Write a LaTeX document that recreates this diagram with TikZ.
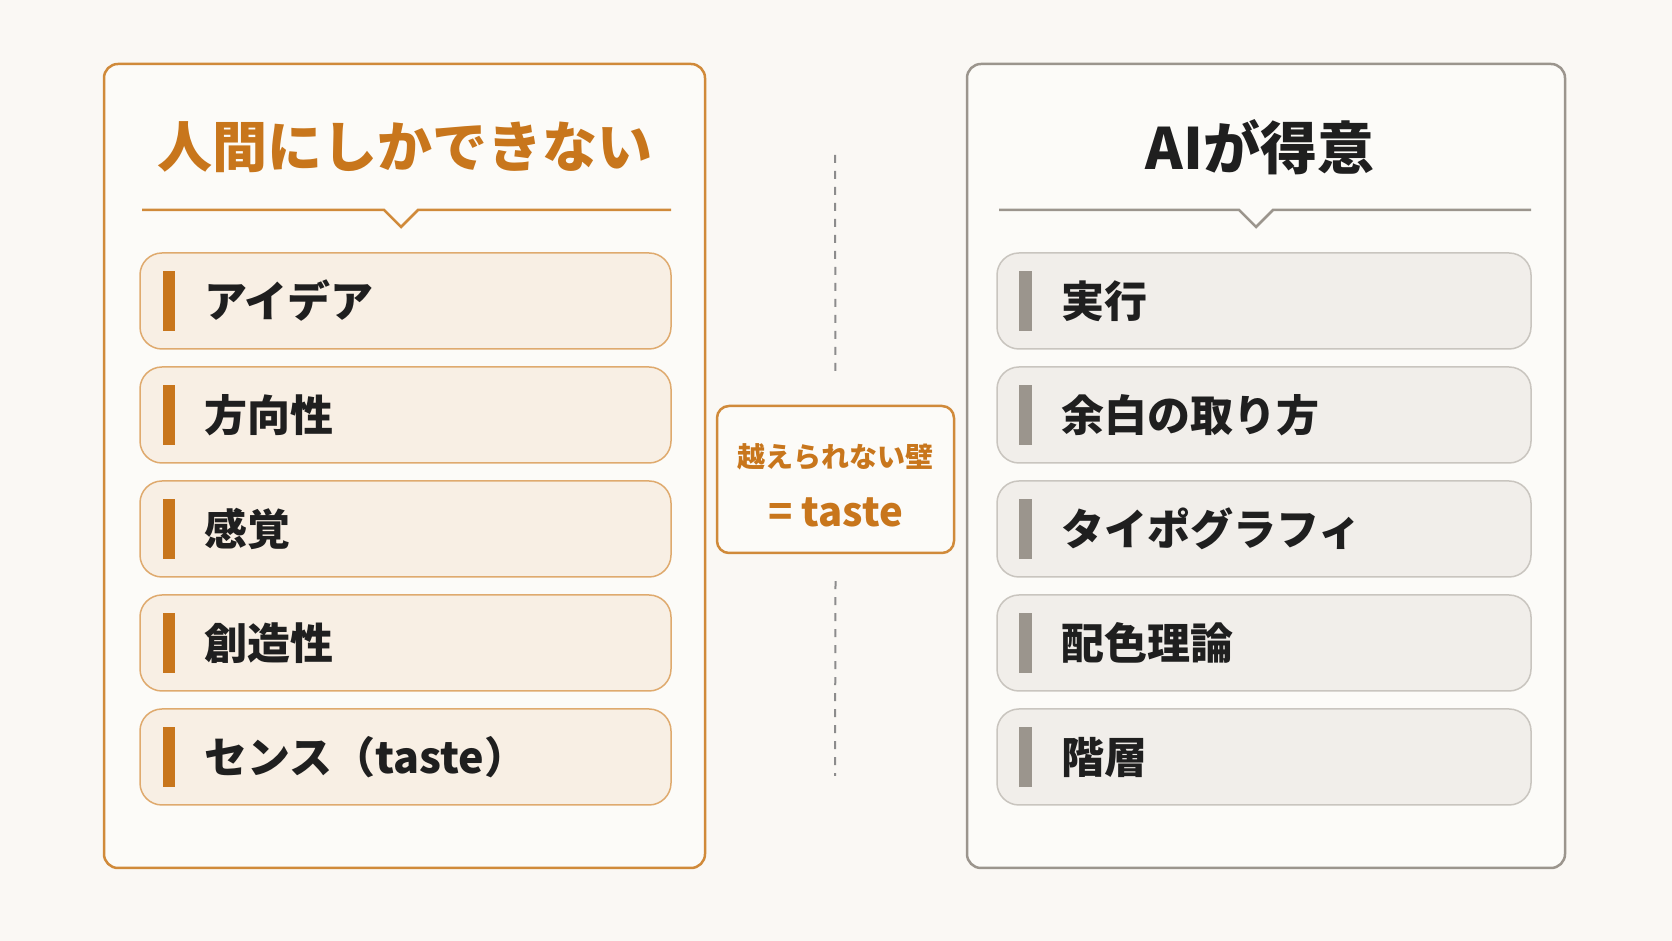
\documentclass[tikz,border=0pt]{standalone}
\usepackage{fontspec}
\setmainfont{Noto Sans CJK JP}
\usetikzlibrary{positioning}
\definecolor{pageBg}{HTML}{FAF8F4}
\definecolor{humanOrange}{HTML}{C8761C}
\definecolor{humanLine}{HTML}{D08A3A}
\definecolor{humanSoft}{HTML}{F8EFE4}
\definecolor{humanEdge}{HTML}{DFAA6E}
\definecolor{aiGray}{HTML}{9B958D}
\definecolor{aiSoft}{HTML}{F1EEEA}
\definecolor{aiEdge}{HTML}{C9C5BF}
\definecolor{inkDark}{HTML}{1F1F1F}
\definecolor{dashGray}{HTML}{8C8C8C}
\tikzset{
  panelH/.style={rectangle, rounded corners=14pt, draw=humanLine, line width=2.5pt,
                 fill=white!40!pageBg, minimum width=601pt, minimum height=804pt, inner sep=0pt},
  panelA/.style={rectangle, rounded corners=14pt, draw=aiGray, line width=2.5pt,
                 fill=white!40!pageBg, minimum width=598pt, minimum height=804pt, inner sep=0pt},
  titleH/.style={font=\bfseries\fontsize{55}{60}\selectfont, text=humanOrange},
  titleA/.style={font=\bfseries\fontsize{57}{60}\selectfont, text=inkDark},
  sepH/.style={humanLine, line width=2.5pt},
  sepA/.style={aiGray, line width=2.5pt},
  itemH/.style={rectangle, rounded corners=22pt, draw=humanEdge, line width=1.5pt, fill=humanSoft,
                minimum width=531pt, minimum height=96pt, text width=403pt, inner xsep=64pt,
                align=left, text=inkDark, font=\bfseries\fontsize{43}{50}\selectfont},
  itemA/.style={rectangle, rounded corners=22pt, draw=aiEdge, line width=1.5pt, fill=aiSoft,
                minimum width=534pt, minimum height=96pt, text width=406pt, inner xsep=64pt,
                align=left, text=inkDark, font=\bfseries\fontsize{43}{50}\selectfont},
  barH/.style={fill=humanOrange},
  barA/.style={fill=aiGray},
  wallbox/.style={rectangle, rounded corners=12pt, draw=humanLine, line width=2.5pt,
                  fill=white!40!pageBg, minimum width=237pt, minimum height=147pt},
  walltext/.style={align=center, text=humanOrange, font=\bfseries},
  divider/.style={dashGray, line width=2pt, dash pattern=on 8pt off 8pt},
}
\begin{document}
\begin{tikzpicture}[x=1pt, y=1pt, node distance=16.5pt]
    \fill[pageBg] (0,0) rectangle (1672,941);
    % two columns
    \node[panelH] (human) at (404.5,475) {};
    \node[panelA] (ai) at (1266,475) {};
    \node[titleH] (tH) at (405,794) {人間にしかできない};
    \node[titleA] (tA) at (1260,794) {AIが得意};
    \draw[sepH] (142,731) -- (384,731) -- (401,714) -- (418,731) -- (671,731);
    \draw[sepA] (999,731) -- (1239,731) -- (1256,714) -- (1273,731) -- (1531,731);
    % left list
    \node[itemH] (h1) at (405.5,640) {アイデア};
    \node[itemH, below=of h1] (h2) {方向性};
    \node[itemH, below=of h2] (h3) {感覚};
    \node[itemH, below=of h3] (h4) {創造性};
    \node[itemH, below=of h4] (h5) {センス（taste）};
    \fill[barH] ([xshift=24pt,yshift=-30pt]h1.west) rectangle ++(12,60);
    \fill[barH] ([xshift=24pt,yshift=-30pt]h2.west) rectangle ++(12,60);
    \fill[barH] ([xshift=24pt,yshift=-30pt]h3.west) rectangle ++(12,60);
    \fill[barH] ([xshift=24pt,yshift=-30pt]h4.west) rectangle ++(12,60);
    \fill[barH] ([xshift=24pt,yshift=-30pt]h5.west) rectangle ++(12,60);
    % right list
    \node[itemA] (a1) at (1264,640) {実行};
    \node[itemA, below=of a1] (a2) {余白の取り方};
    \node[itemA, below=of a2] (a3) {タイポグラフィ};
    \node[itemA, below=of a3] (a4) {配色理論};
    \node[itemA, below=of a4] (a5) {階層};
    \fill[barA] ([xshift=23pt,yshift=-30pt]a1.west) rectangle ++(13,60);
    \fill[barA] ([xshift=23pt,yshift=-30pt]a2.west) rectangle ++(13,60);
    \fill[barA] ([xshift=23pt,yshift=-30pt]a3.west) rectangle ++(13,60);
    \fill[barA] ([xshift=23pt,yshift=-30pt]a4.west) rectangle ++(13,60);
    \fill[barA] ([xshift=23pt,yshift=-30pt]a5.west) rectangle ++(13,60);
    % the wall in between
    \node[wallbox] (wall) at (835.5,461.5) {};
    \node[walltext] (wallT) at ([yshift=-6pt]wall.center)
      {\fontsize{28}{32}\selectfont 越えられない壁\\[27pt]\fontsize{40}{44}\selectfont = taste};
    \coordinate (dTop) at (835,786);
    \coordinate (dBot) at (835,165);
    \draw[divider] (dTop) -- ([yshift=27pt]wall.north);
    \draw[divider] ([yshift=-27pt]wall.south) -- (dBot);
  \end{tikzpicture}
\end{document}
